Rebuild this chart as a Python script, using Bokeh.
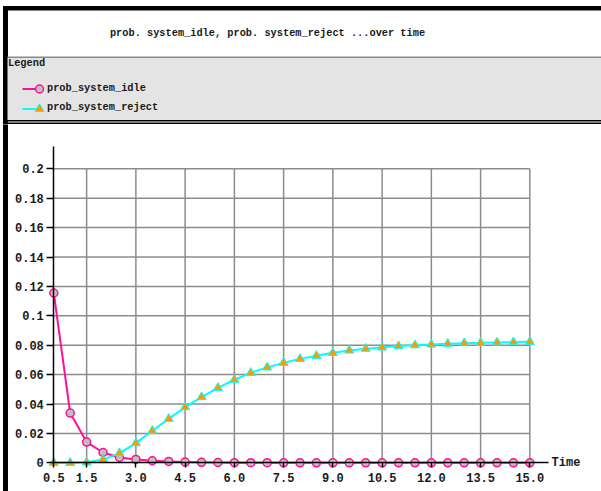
from bokeh.plotting import figure
from bokeh.layouts import column
from bokeh.models import FixedTicker, Label
from bokeh.core.properties import value
from bokeh.embed import file_html
from bokeh.resources import INLINE

# ---- data -------------------------------------------------------------
time = [0.5, 1.0, 1.5, 2.0, 2.5, 3.0, 3.5, 4.0, 4.5, 5.0,
        5.5, 6.0, 6.5, 7.0, 7.5, 8.0, 8.5, 9.0, 9.5, 10.0,
        10.5, 11.0, 11.5, 12.0, 12.5, 13.0, 13.5, 14.0, 14.5, 15.0]

prob_system_idle = [0.1155, 0.0338, 0.0141, 0.0070, 0.0036, 0.0023, 0.0014, 0.0009, 0.0005, 0.0003,
                    0.0002, 0.0001, 0.0001, 0.0001, 0.0, 0.0, 0.0, 0.0, 0.0, 0.0,
                    0.0, 0.0, 0.0, 0.0, 0.0, 0.0, 0.0, 0.0, 0.0, 0.0]

prob_system_reject = [0.0, 0.0, 0.0003, 0.0022, 0.0066, 0.0134, 0.0218, 0.0299, 0.0379, 0.0447,
                      0.0510, 0.0565, 0.0612, 0.0649, 0.0680, 0.0707, 0.0728, 0.0748, 0.0764, 0.0776,
                      0.0785, 0.0794, 0.0800, 0.0805, 0.0810, 0.0814, 0.0816, 0.0819, 0.0821, 0.0823]

x_ticks = [0.5, 1.5, 3.0, 4.5, 6.0, 7.5, 9.0, 10.5, 12.0, 13.5, 15.0]
x_tick_labels = ["0.5", "1.5", "3.0", "4.5", "6.0", "7.5", "9.0", "10.5", "12.0", "13.5", "15.0"]
y_ticks = [0.0, 0.02, 0.04, 0.06, 0.08, 0.1, 0.12, 0.14, 0.16, 0.18, 0.2]
y_tick_labels = ["0", "0.02", "0.04", "0.06", "0.08", "0.1", "0.12", "0.14", "0.16", "0.18", "0.2"]

title_text = "prob. system_idle, prob. system_reject ...over time"
series_names = ["prob_system_idle", "prob_system_reject"]

# ---- styling ----------------------------------------------------------
FONT = value("Liberation Mono")
PINK = "#ff0f96"
CYAN = "#00ffff"
ORANGE = "#ff9900"
MARKER_GRAY = "#c0c0c0"
GRID = "#8c8c8c"
BAND = "#e4e4e4"

W = 601
HEAD_H = 124
PLOT_H = 367

# screen layout of the chart area
PX_PER_X = 32.83      # pixels per time unit
PX_PER_Y = 1470.0     # pixels per probability unit
X_ORIGIN_PX = 53.3    # pixel column of the first time tick
Y_ZERO_PX = 338.3     # pixel row (from top of chart figure) of y = 0

x_start = x_ticks[0] - X_ORIGIN_PX / PX_PER_X
x_end = x_start + W / PX_PER_X
y_end = Y_ZERO_PX / PX_PER_Y
y_start = y_end - PLOT_H / PX_PER_Y


def fx(px):
    return x_start + px / PX_PER_X


# ---- header: title and legend -----------------------------------------
head = figure(width=W, height=HEAD_H, x_range=(0, W), y_range=(HEAD_H, 0),
              min_border=0, toolbar_location=None, output_backend="svg",
              x_axis_location=None, y_axis_location=None,
              outline_line_color=None, background_fill_color="white",
              border_fill_color="white")
head.grid.visible = False

# frame edges
head.quad(left=[3], right=[7], top=[6], bottom=[HEAD_H], color="black")
head.quad(left=[3], right=[W], top=[6], bottom=[9.5], color="black")

# title
head.text(x=[267], y=[32.5], text=[title_text], text_font=FONT,
          text_font_style="bold", text_font_size=value("10.3px"),
          text_align="center", text_baseline="middle", text_color="#1a1a1a")

# legend band
head.segment(x0=[7], y0=[56.8], x1=[W], y1=[56.8], line_color="#8a8a8a", line_width=1.5)
head.quad(left=[7], right=[W], top=[57.6], bottom=[119.4], fill_color=BAND, line_color=None)
head.segment(x0=[7, 7], y0=[120.3, 122.8], x1=[W, W], y1=[120.3, 122.8],
             line_color="black", line_width=1.5)

head.text(x=[7.5], y=[62.5], text=["Legend"], text_font=FONT,
          text_font_style="bold", text_font_size=value("10.3px"),
          text_align="left", text_baseline="middle", text_color="#1a1a1a")

head.segment(x0=[22], y0=[88.5], x1=[37], y1=[88.5], line_color=PINK, line_width=2)
head.scatter(x=[39], y=[88.5], marker="circle", size=8, fill_color=MARKER_GRAY,
             line_color=PINK, line_width=1.5)
head.segment(x0=[22], y0=[108.5], x1=[37], y1=[108.5], line_color=CYAN, line_width=2)
head.scatter(x=[39], y=[108.5], marker="triangle", size=9, fill_color=ORANGE,
             line_color=CYAN, line_width=1)
head.text(x=[46.5, 46.5], y=[87.8, 106.8], text=series_names, text_font=FONT,
          text_font_style="bold", text_font_size=value("10.3px"),
          text_align="left", text_baseline="middle", text_color="#1a1a1a")

# ---- chart ------------------------------------------------------------
p = figure(width=W, height=PLOT_H, x_range=(x_start, x_end), y_range=(y_start, y_end),
           min_border=0, toolbar_location=None, output_backend="svg",
           outline_line_color=None, background_fill_color="white",
           border_fill_color="white")
p.grid.visible = False

# left frame edge continues down the chart
p.quad(left=[fx(3)], right=[fx(7)], bottom=[y_start], top=[y_end], color="black")

# grid bounded to the tick extents
p.segment(x0=x_ticks[1:], y0=[y_ticks[0]] * (len(x_ticks) - 1),
          x1=x_ticks[1:], y1=[y_ticks[-1]] * (len(x_ticks) - 1),
          line_color=GRID, line_width=1.5, level="underlay")
p.segment(x0=[x_ticks[0]] * (len(y_ticks) - 1), y0=y_ticks[1:],
          x1=[x_ticks[-1]] * (len(y_ticks) - 1), y1=y_ticks[1:],
          line_color=GRID, line_width=1.5, level="underlay")

# axes crossing at (first time tick, 0)
x_axis_end = x_ticks[-1] + 0.57
y_axis_end = y_ticks[-1] + 0.015
p.xaxis.fixed_location = 0
p.yaxis.fixed_location = x_ticks[0]
p.xaxis.bounds = (x_ticks[0], x_axis_end)
p.yaxis.bounds = (y_ticks[0], y_axis_end)
p.xaxis.ticker = FixedTicker(ticks=x_ticks)
p.yaxis.ticker = FixedTicker(ticks=y_ticks)
p.xaxis.major_label_overrides = dict(zip(x_ticks, x_tick_labels))
p.yaxis.major_label_overrides = dict(zip(y_ticks, y_tick_labels))
for ax in (p.xaxis, p.yaxis):
    ax.axis_line_color = "black"
    ax.axis_line_width = 1.5
    ax.major_tick_line_color = "black"
    ax.major_tick_line_width = 1.5
    ax.major_tick_in = 0
    ax.minor_tick_line_color = None
    ax.major_label_text_font = "Liberation Mono"
    ax.major_label_text_font_style = "bold"
    ax.major_label_text_font_size = "12px"
    ax.major_label_text_color = "#1a1a1a"
p.xaxis.major_tick_out = 5
p.xaxis.major_label_standoff = 5
p.yaxis.major_tick_out = 7
p.yaxis.major_label_standoff = 3

p.add_layout(Label(x=x_axis_end, y=0, text="Time", x_offset=3,
                   text_font="Liberation Mono", text_font_style="bold",
                   text_font_size="12px", text_baseline="middle",
                   text_color="#1a1a1a"))

# series
p.line(time, prob_system_idle, line_color=PINK, line_width=2)
p.scatter(time, prob_system_idle, marker="circle", size=8, fill_color=MARKER_GRAY,
          line_color=PINK, line_width=1.5)
p.line(time, prob_system_reject, line_color=CYAN, line_width=2)
p.scatter(time, prob_system_reject, marker="triangle", size=9, fill_color=ORANGE,
          line_color=CYAN, line_width=1)

layout = column(head, p, spacing=0)
open("out.html", "w").write(file_html(layout, INLINE))
